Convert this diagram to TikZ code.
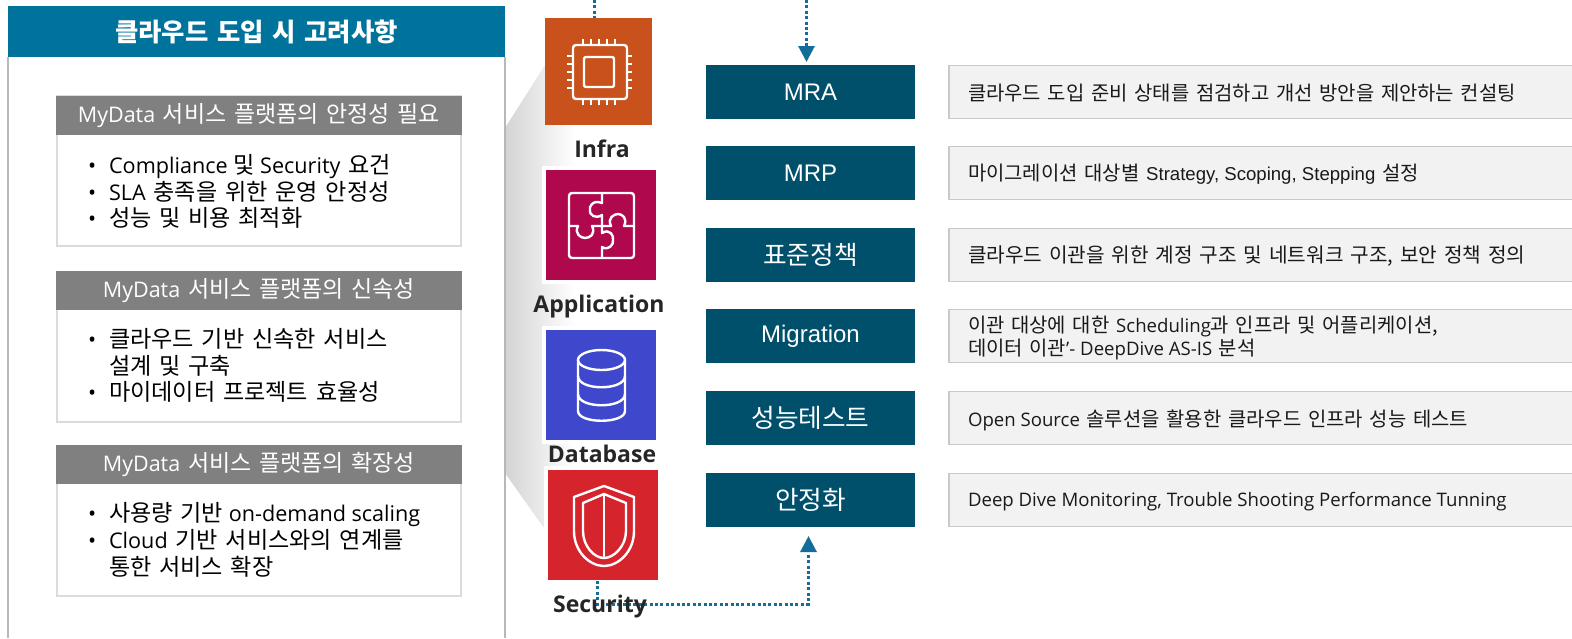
\documentclass[tikz,border=0pt]{standalone}
\usepackage{fontspec}
\setmainfont{Open Sans}
\newfontfamily\krfont[Scale=1.07,WordSpace=1.5]{Noto Sans CJK KR}
\newfontfamily\arfont{Liberation Sans}
\usetikzlibrary{arrows.meta,shadings}
\definecolor{hdrblue}{HTML}{00739C}
\definecolor{stepteal}{HTML}{004F6B}
\definecolor{boxgrey}{HTML}{808080}
\definecolor{descfill}{HTML}{F2F2F2}
\definecolor{descline}{HTML}{C9C9C9}
\definecolor{arrowblue}{HTML}{146C99}
\definecolor{infraC}{HTML}{C9511B}
\definecolor{appC}{HTML}{B0084D}
\definecolor{dbC}{HTML}{3F48CC}
\definecolor{secC}{HTML}{D6242D}
\newcommand{\K}[1]{{\krfont #1}}
\tikzset{
  x=1pt,y=-1pt,
  every node/.style={inner sep=0pt,outer sep=0pt},
  framebox/.style={draw=black!14,line width=2pt,fill=white,anchor=north west,minimum width=404pt},
  greyhead/.style={fill=boxgrey,text=white,anchor=north west,minimum width=406pt,minimum height=39pt,font=\fontsize{21.5}{25}\selectfont},
  bullets/.style={anchor=west,text=black,font=\fontsize{21.6}{25}\selectfont},
  stepbox/.style={fill=stepteal,text=white,anchor=north west,minimum width=209pt,minimum height=54pt,font=\arfont\fontsize{24}{28}\selectfont},
  descbox/.style={draw=descline,line width=1.5pt,fill=descfill,anchor=north west,minimum width=625pt,minimum height=53pt},
  desctext/.style={anchor=west,text=black!90,align=left,font=\fontsize{18.6}{23}\selectfont},
  iconbox/.style={draw=white,line width=4pt,anchor=north west,minimum width=114pt,minimum height=114pt},
  iconlabel/.style={text=black!85,font=\bfseries\fontsize{23}{28}\selectfont},
  glyph/.style={draw=white,line width=2.4pt,line join=round,line cap=round},
  dotline/.style={draw=arrowblue,line width=3pt,dash pattern=on 3pt off 2.4pt},
  tipped/.style={-{Triangle[length=16pt,width=16pt,fill=arrowblue,color=arrowblue]}},
}
\newcommand{\bulletlist}[1]{\begin{tabular}{@{}l@{\hspace{13pt}}l@{}}#1\end{tabular}}
\begin{document}
\begin{tikzpicture}
\useasboundingbox (0,0) rectangle (1572,638);
\fill[white] (0,0) rectangle (1572,638);
% funnel
\shade[left color=black!17,right color=white] (505,128) -- (545,65) -- (575,65) -- (575,528) -- (544,528) -- (505,473) -- cycle;
% left panel
\node[fill=hdrblue,text=white,anchor=north west,minimum width=497pt,minimum height=51pt,font=\bfseries\fontsize{23.7}{29}\selectfont] (title) at (8,6) {\K{클라우드 도입 시 고려사항}};
\coordinate (pl) at (8,638);
\coordinate (pr) at (505,638);
\draw[black!28,line width=2pt] (title.south west) -- (pl);
\draw[black!28,line width=2pt] (title.south east) -- (pr);
% box 1
\node[framebox,minimum height=150pt] (b1) at (57,96) {};
\node[greyhead] (h1) at (56,96) {\raisebox{-2pt}{MyData\K{ 서비스 플랫폼의 안정성 필요}}};
\node[bullets] (t1) at (88,194.5) {\bulletlist{•&Compliance \K{및} Security\K{ 요건}\\ •&SLA\K{ 충족을 위한 운영 안정성}\\ •&\K{성능 및 비용 최적화}}};
% box 2
\node[framebox,minimum height=150pt] (b2) at (57,272) {};
\node[greyhead] (h2) at (56,271) {\raisebox{-2pt}{MyData\K{ 서비스 플랫폼의 신속성}}};
\node[bullets] (t2) at (88,368.5) {\bulletlist{•&\K{클라우드 기반 신속한 서비스}\\ &\K{설계 및 구축}\\ •&\K{마이데이터 프로젝트 효율성}}};
% box 3
\node[framebox,minimum height=150pt] (b3) at (57,446) {};
\node[greyhead] (h3) at (56,445) {\raisebox{-2pt}{MyData\K{ 서비스 플랫폼의 확장성}}};
\node[bullets] (t3) at (88,542.5) {\bulletlist{•&\K{사용량 기반} on-demand scaling\\ •&Cloud\K{ 기반 서비스와의 연계를}\\ &\K{통한 서비스 확장}}};
% icons
\node[anchor=north west,fill=infraC,minimum width=107pt,minimum height=107pt] (infra) at (545,18) {};
\node[iconbox,fill=appC] (app) at (544,168) {};
\node[iconbox,fill=dbC] (db) at (544,328) {};
\node[iconbox,fill=secC] (sec) at (546,468) {};
\node[iconlabel] (linfra) at (602,149) {Infra};
\node[iconlabel] (lapp) at (599,307) {Application};
\node[iconlabel] (ldb) at (602,454) {Database};
% chip
\draw[glyph,rounded corners=3pt] (573,45) rectangle (627,99);
\draw[glyph,rounded corners=2pt] (584,57) rectangle (614,87);
\foreach \p in {583,591,599,607,615}{\draw[glyph,line cap=butt] (\p,39) -- (\p,45) (\p,99) -- (\p,105);}
\foreach \p in {56,64,72,80,88}{\draw[glyph,line cap=butt] (567,\p) -- (573,\p) (627,\p) -- (632,\p);}
% puzzle
\draw[glyph,rounded corners=3pt] (569,193) rectangle (634,258);
\draw[glyph] (602,193) -- (602,203) .. controls (592,199) and (589,208) .. (590,209) .. controls (589,216) and (596,219) .. (602,215) -- (602,233) .. controls (610,228) and (614,236) .. (613,240) .. controls (614,245) and (608,251) .. (602,247) -- (602,258);
\draw[glyph] (569,226) -- (578,226) .. controls (574,234) and (581,238) .. (585,238) .. controls (590,238) and (596,234) .. (592,226) -- (611,226) .. controls (607,218) and (614,214) .. (618,214) .. controls (622,214) and (628,218) .. (624,226) -- (634,226);
% database
\draw[glyph] (601.5,360) ellipse [x radius=23.5,y radius=10];
\draw[glyph] (578,360) -- (578,411) .. controls (578,424) and (625,424) .. (625,411) -- (625,360);
\draw[glyph] (578,376) .. controls (578,391) and (625,391) .. (625,376);
\draw[glyph] (578,394) .. controls (578,409) and (625,409) .. (625,394);
% shield
\draw[glyph] (604,486) -- (634,497) -- (634,531) .. controls (634,552) and (618,566) .. (604,566) .. controls (590,566) and (574,552) .. (574,531) -- (574,497) -- cycle;
\draw[glyph] (604,494) -- (626,503) -- (626,531) .. controls (626,546) and (614,558) .. (604,558) .. controls (594,558) and (583,546) .. (583,531) -- (583,503) -- cycle;
\draw[glyph] (604,494) -- (604,558);
% steps
\node[stepbox] (s1) at (706,65) {\raisebox{-4pt}{MRA}};
\node[stepbox] (s2) at (706,146) {\raisebox{-4pt}{MRP}};
\node[stepbox] (s3) at (706,228) {\raisebox{-1.5pt}{\K{표준정책}}};
\node[stepbox] (s4) at (706,309) {\raisebox{-6pt}{Migration}};
\node[stepbox] (s5) at (706,391) {\raisebox{-1.5pt}{\K{성능테스트}}};
\node[stepbox] (s6) at (706,473) {\raisebox{-1.5pt}{\K{안정화}}};
% descriptions
\node[descbox] (d1) at (949,65.5) {};
\node[descbox] (d2) at (949,146.5) {};
\node[descbox] (d3) at (949,228.5) {};
\node[descbox] (d4) at (949,309.5) {};
\node[descbox] (d5) at (949,391.5) {};
\node[descbox] (d6) at (949,473.5) {};
\node[desctext] (e1) at (968,93.5) {\K{클라우드 도입 준비 상태를 점검하고 개선 방안을 제안하는 컨설팅}};
\node[desctext] (e2) at (968,174.5) {\K{마이그레이션 대상별 }{\arfont Strategy, Scoping, Stepping}\K{ 설정}};
\node[desctext,font=\fontsize{18.9}{23}\selectfont] (e3) at (968,256.5) {\K{클라우드 이관을 위한 계정 구조 및 네트워크 구조, 보안 정책 정의}};
\node[desctext] (e4) at (968,337.5) {\K{이관 대상에 대한 }Scheduling\K{과 인프라 및 어플리케이션,}\\ \K{데이터 이관}'- DeepDive AS-IS\K{ 분석}};
\node[desctext] (e5) at (968,420) {Open Source\K{ 솔루션을 활용한 클라우드 인프라 성능 테스트}};
\node[desctext] (e6) at (968,502) {Deep Dive Monitoring, Trouble Shooting Performance Tunning};
% connectors
\coordinate (topA) at (594,0);
\coordinate (topB) at (806.5,0);
\coordinate (bend1) at (597,604);
\coordinate (bend2) at (808.5,604);
\coordinate (tipTop) at (806.5,62);
\coordinate (tipBot) at (808.5,536);
\coordinate (secOut) at (597,581);
\draw[dotline] (topA) -- (topA |- infra.north);
\draw[dotline,tipped] (topB) -- (tipTop);
\draw[dotline,tipped] (secOut) -- (bend1) -- (bend2) -- (tipBot);
\node[iconlabel] (lsec) at (600,607) {Security};
\end{tikzpicture}
\end{document}
